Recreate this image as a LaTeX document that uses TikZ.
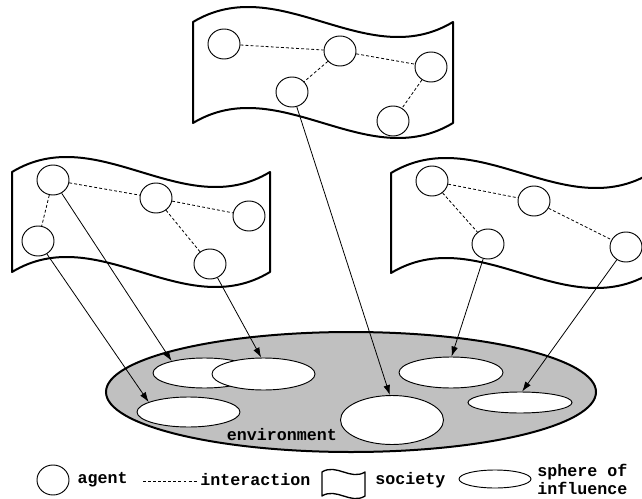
\documentclass[tikz,border=0pt]{standalone}
\usepackage{fontspec}
\setmonofont{Liberation Mono}
\usetikzlibrary{positioning}
\usetikzlibrary{shapes.geometric}
\usetikzlibrary{arrows.meta}
\definecolor{envgray}{RGB}{192,192,192}

\tikzset{
  agent/.style={draw, ellipse, line width=0.7pt, fill=white, minimum width=24pt, minimum height=22.5pt, inner sep=0pt},
  sphere/.style={draw, ellipse, line width=0.7pt, fill=white, inner sep=0pt},
  society/.style={draw, line width=1.5pt, fill=white, line join=round},
  interaction/.style={line width=0.6pt, dash pattern=on 2.2pt off 1.6pt},
  influence/.style={line width=0.6pt, -{Latex[length=7.5pt,width=5pt]}},
  lbl/.style={font=\fontsize{12.5}{13.5}\selectfont\ttfamily\bfseries, inner sep=0pt}
}

\begin{document}
\begin{tikzpicture}[x=0.75pt, y=-0.75pt]

    \useasboundingbox (0,0) rectangle (642,499);
    \clip (0,0) rectangle (642,499);

    % Societies
    \draw[society] (193,22) .. controls (279.7,-30) and (366.3,74) .. (453,22) -- (453,123)
        .. controls (366.3,175) and (279.7,71) .. (193,123) -- cycle;
    \draw[society] (12,172) .. controls (98,120) and (184,224) .. (270,172) -- (270,272)
        .. controls (184,324) and (98,220) .. (12,272) -- cycle;
    \draw[society] (391,173) .. controls (477.7,121) and (564.3,225) .. (651,173) -- (651,273)
        .. controls (564.3,325) and (477.7,221) .. (391,273) -- cycle;

    % Environment
    \node[draw, ellipse, fill=envgray, line width=1.5pt, minimum width=367.5pt, minimum height=90pt, inner sep=0pt] (env) at (351,392) {};
    \node[lbl] (envlabel) at (282,435) {environment};

    % Spheres of influence
    \node[sphere, minimum width=77.25pt, minimum height=22.5pt] (s1) at (204.5,373) {};
    \node[sphere, minimum width=77.25pt, minimum height=24pt] (s2) at (263.5,374) {};
    \node[sphere, minimum width=77.25pt, minimum height=22.5pt] (s3) at (188.5,412) {};
    \node[sphere, minimum width=77.25pt, minimum height=36.75pt] (s4) at (392,420) {};
    \node[sphere, minimum width=78pt, minimum height=23.25pt] (s5) at (451,372.5) {};
    \node[sphere, minimum width=78pt, minimum height=15.75pt] (s6) at (520,402.5) {};

    % Agents, top society
    \node[agent] (t1) at (224,44) {};
    \node[agent] (t2) at (340,51) {};
    \node[agent] (t3) at (431,67) {};
    \node[agent] (t4) at (292,92) {};
    \node[agent] (t5) at (393,121) {};

    % Agents, left society
    \node[agent] (l1) at (53,180) {};
    \node[agent] (l2) at (156,198) {};
    \node[agent] (l3) at (249,216) {};
    \node[agent] (l4) at (38,241) {};
    \node[agent] (l5) at (210,264) {};

    % Agents, right society
    \node[agent] (r1) at (432,181) {};
    \node[agent] (r2) at (534,201) {};
    \node[agent] (r3) at (488,244) {};
    \node[agent] (r4) at (626,247) {};

    % Interactions
    \draw[interaction] (t1) -- (t2);
    \draw[interaction] (t2) -- (t3);
    \draw[interaction] (t2) -- (t4);
    \draw[interaction] (t3) -- (t5);
    \draw[interaction] (l1) -- (l2);
    \draw[interaction] (l2) -- (l3);
    \draw[interaction] (l1) -- (l4);
    \draw[interaction] (l2) -- (l5);
    \draw[interaction] (r1) -- (r2);
    \draw[interaction] (r1) -- (r3);
    \draw[interaction] (r2) -- (r4);

    % Influence on the environment
    \draw[influence] (l1) -- (s1.160);
    \draw[influence] (l4) -- (s3.166);
    \draw[influence] (l5) -- (s2.98);
    \draw[influence] (t4) -- (s4.95);
    \draw[influence] (r3) -- (s5.88);
    \draw[influence] (r4) -- (s6.79);

    % Legend
    \node[agent] (keyagent) at (53,480) {};
    \node[lbl, right=6pt of keyagent] (keyagenttext) {agent};
    \node[lbl, anchor=west] (keyinteraction) at (200,480) {interaction};
    \coordinate (keydash) at (143,481);
    \draw[interaction, shorten >=2pt] (keydash) -- (keydash -| keyinteraction.west);
    \draw[society, line width=1pt] (322,472) .. controls (336.3,463) and (350.7,481) .. (365,472) -- (365,496)
        .. controls (350.7,505) and (336.3,487) .. (322,496) -- cycle;
    \node[lbl, anchor=west] (keysociety) at (375,480) {society};
    \node[sphere, minimum width=54pt, minimum height=13.5pt] (keysphere) at (495,479) {};
    \node[lbl, align=left, anchor=west] (keyspheretext) at (537,479) {sphere of\\influence};

\end{tikzpicture}
\end{document}
